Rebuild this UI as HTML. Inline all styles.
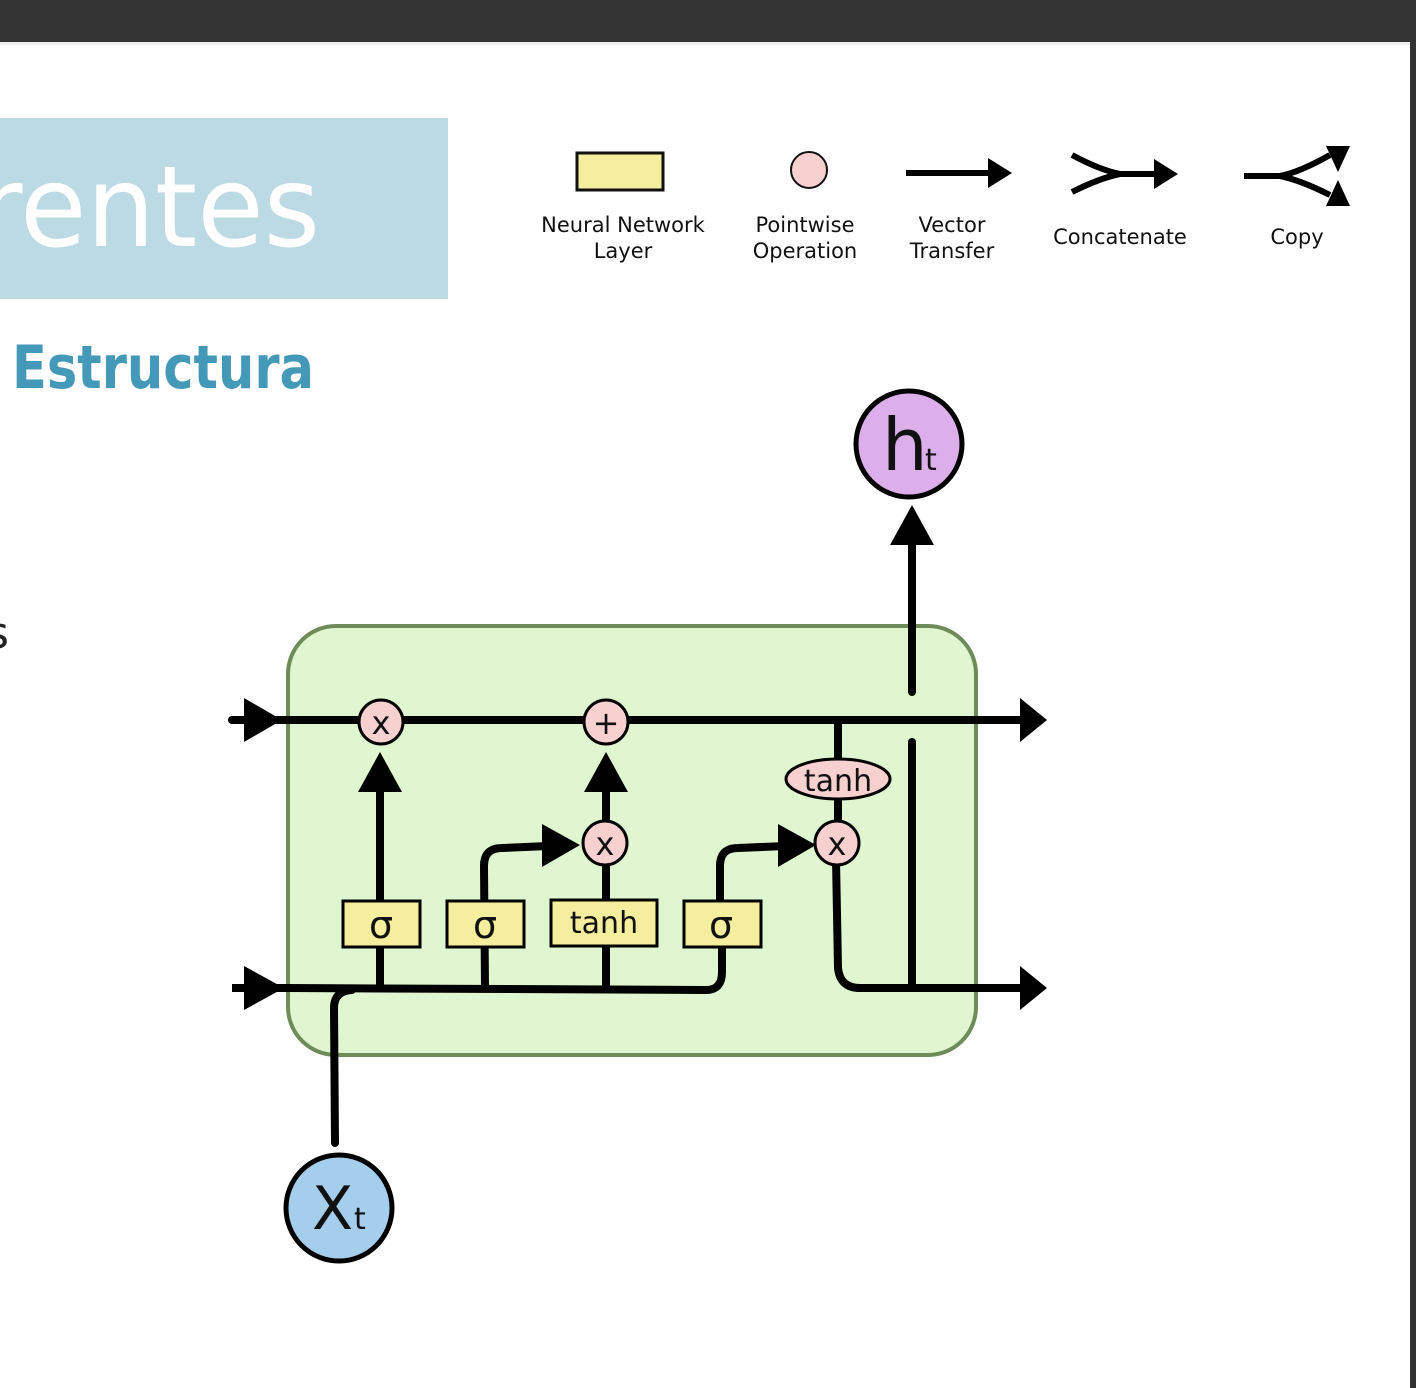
<!DOCTYPE html>
<html><head><meta charset="utf-8"><style>
html,body{margin:0;padding:0;background:#fff;}
svg{display:block;}
text{font-family:"DejaVu Sans","Liberation Sans",sans-serif;}
</style></head><body>
<svg width="1416" height="1388" viewBox="0 0 1416 1388" xmlns="http://www.w3.org/2000/svg">
<rect x="0" y="0" width="1416" height="1388" fill="#fff"/>
<rect x="0" y="0" width="1416" height="42" fill="#333333"/>
<rect x="0" y="42" width="1416" height="3" fill="#eeeeee"/>
<rect x="1410" y="42" width="6" height="1346" fill="#333"/>
<rect x="0" y="118" width="448" height="181" fill="#bcdae4"/>
<text x="-22" y="246" font-size="112" fill="#fff" textLength="342" lengthAdjust="spacingAndGlyphs">rentes</text>
<text x="12" y="388" font-size="60" font-weight="bold" fill="#4499b8" textLength="302" lengthAdjust="spacingAndGlyphs">Estructura</text>
<text x="-14" y="648" font-size="44" fill="#222">s</text>

<!-- legend -->
<rect x="577" y="153" width="86" height="37" fill="#f5ee9e" stroke="#111" stroke-width="3"/>
<circle cx="809" cy="170" r="18" fill="#f7d0d0" stroke="#111" stroke-width="2"/>
<line x1="906" y1="173" x2="990" y2="173" stroke="#000" stroke-width="6"/>
<polygon points="988,158 1012,173 988,188" fill="#000"/>
<path d="M1072,155 Q1100,170 1120,174 M1072,192 Q1100,178 1120,174 L1158,174" stroke="#000" stroke-width="6" fill="none"/>
<polygon points="1154,159 1178,174 1154,189" fill="#000"/>
<path d="M1244,176 L1280,176 Q1300,172 1330,155 M1280,176 Q1300,180 1330,195" stroke="#000" stroke-width="6" fill="none"/>
<polygon points="1326,146 1350,146 1338,172" fill="#000"/>
<polygon points="1326,206 1350,206 1338,180" fill="#000"/>
<g font-size="21" fill="#111" text-anchor="middle">
<text x="623" y="232">Neural Network</text><text x="623" y="258">Layer</text>
<text x="805" y="232">Pointwise</text><text x="805" y="258">Operation</text>
<text x="952" y="232">Vector</text><text x="952" y="258">Transfer</text>
<text x="1120" y="244">Concatenate</text>
<text x="1297" y="244">Copy</text>
</g>

<!-- cell -->
<rect x="288" y="626" width="688" height="429" rx="48" fill="#dff6d0" stroke="#6f8b5a" stroke-width="4"/>
<g stroke="#000" stroke-width="8" fill="none" stroke-linecap="round">
<line x1="232" y1="720" x2="1025" y2="720"/>
<path d="M288,988 L706,990 Q722,990 722,972 L722,925"/>
<path d="M380,988 L380,790"/>
<path d="M485,988 L484,866 Q484,848 502,848 L548,846"/>
<path d="M606,988 L606,790"/>
<path d="M720,920 L720,866 Q720,848 738,848 L785,846"/>
<line x1="838" y1="722" x2="838" y2="830"/>
<path d="M836,860 L838,968 Q840,988 860,988 L1025,988"/>
<line x1="912" y1="742" x2="912" y2="985"/>
<line x1="912" y1="692" x2="912" y2="540"/>
<path d="M335,1143 L334,1008 Q334,991 352,990"/>
</g>
<line x1="232" y1="988" x2="290" y2="988" stroke="#000" stroke-width="8"/>
<g fill="#000">
<polygon points="244,698 282,720 244,742"/>
<polygon points="244,966 284,988 244,1010"/>
<polygon points="1020,698 1047,720 1020,742"/>
<polygon points="1020,966 1047,988 1020,1010"/>
<polygon points="358,792 402,792 380,752"/>
<polygon points="584,792 628,792 606,752"/>
<polygon points="542,824 542,867 580,845"/>
<polygon points="778,824 778,867 816,845"/>
<polygon points="890,545 934,545 912,505"/>
</g>
<g stroke="#000" stroke-width="3">
<rect x="343" y="901" width="77" height="46" fill="#f5ee9e"/>
<rect x="447" y="901" width="77" height="46" fill="#f5ee9e"/>
<rect x="551" y="900" width="106" height="46" fill="#f5ee9e"/>
<rect x="684" y="901" width="77" height="46" fill="#f5ee9e"/>
<circle cx="381" cy="722" r="22" fill="#f7d0d0"/>
<circle cx="606" cy="722" r="22" fill="#f7d0d0"/>
<circle cx="605" cy="843" r="22" fill="#f7d0d0"/>
<circle cx="837" cy="843" r="22" fill="#f7d0d0"/>
<ellipse cx="838" cy="779" rx="52" ry="20" fill="#f7d0d0"/>
</g>
<g font-size="32" fill="#111" text-anchor="middle">
<text x="381" y="734">x</text><text x="606" y="734">+</text>
<text x="605" y="855">x</text><text x="837" y="855">x</text>
<text x="838" y="791" font-size="30">tanh</text>
<text x="381" y="938" font-size="38">σ</text>
<text x="485" y="938" font-size="38">σ</text>
<text x="604" y="933" font-size="30">tanh</text>
<text x="721" y="938" font-size="38">σ</text>
</g>
<circle cx="909" cy="444" r="53" fill="#dcaeea" stroke="#000" stroke-width="5"/>
<text x="882" y="470" font-size="72" fill="#111">h</text><text x="925" y="470" font-size="30" fill="#111">t</text>
<circle cx="339" cy="1208" r="53" fill="#a5cdec" stroke="#000" stroke-width="5"/>
<text x="312" y="1229" font-size="60" fill="#111">X</text><text x="354" y="1229" font-size="30" fill="#111">t</text>
</svg>
</body></html>
